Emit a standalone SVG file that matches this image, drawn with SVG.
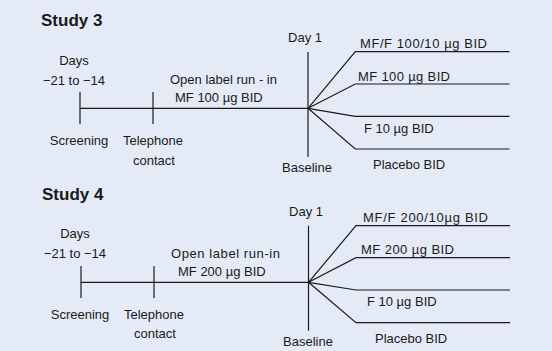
<svg xmlns="http://www.w3.org/2000/svg" width="552" height="351" viewBox="0 0 552 351">
<style>
text{font-family:"Liberation Sans",Arial,sans-serif;font-size:13px;fill:#1a1a1a}
.t{font-size:17px;font-weight:bold}
.c{text-anchor:middle}
line,polyline{stroke:#1a1a1a;stroke-width:1.2;fill:none}
</style>
<rect width="552" height="351" fill="#e4ebf6"/>
<g id="study3">
<text class="t" x="41" y="26">Study 3</text>
<g id="s3-screening">
<text class="c" x="74" y="65">Days</text>
<text class="c" x="74" y="85">−21 to −14</text>
<text class="c" x="79" y="145">Screening</text>
</g>
<g id="s3-telephone">
<text class="c" x="153" y="145">Telephone</text>
<text class="c" x="154" y="165">contact</text>
</g>
<g id="s3-runin">
<text x="170" y="84">Open label run - in</text>
<text x="175" y="102">MF 100 µg BID</text>
</g>
<g id="s3-baseline">
<text class="c" x="305" y="42">Day 1</text>
<text class="c" x="307" y="172">Baseline</text>
</g>
<g id="s3-arms">
<text x="360" y="48" textLength="127" lengthAdjust="spacing">MF/F 100/10 µg BID</text>
<text x="358" y="81" textLength="92" lengthAdjust="spacing">MF 100 µg BID</text>
<text x="364" y="133">F 10 µg BID</text>
<text x="373" y="169">Placebo BID</text>
</g>
<g id="s3-connectors">
<line x1="80" y1="92" x2="80" y2="124"/>
<line x1="153" y1="92" x2="153" y2="124"/>
<line x1="80" y1="108.3" x2="308" y2="108.3"/>
<line x1="308" y1="52" x2="308" y2="157"/>
<polyline points="308,108.3 355.3,51.7 509.5,51.7"/>
<polyline points="308,108.3 355.3,84 509.5,84"/>
<polyline points="308,108.3 355.3,116.3 509.5,116.3"/>
<polyline points="308,108.3 355.3,149 509.5,149"/>
</g>
</g>
<g id="study4">
<text class="t" x="42" y="200">Study 4</text>
<g id="s4-screening">
<text class="c" x="75" y="238">Days</text>
<text class="c" x="75" y="258">−21 to −14</text>
<text class="c" x="80" y="319">Screening</text>
</g>
<g id="s4-telephone">
<text class="c" x="154" y="319">Telephone</text>
<text class="c" x="155" y="338">contact</text>
</g>
<g id="s4-runin">
<text x="171" y="258" textLength="109" lengthAdjust="spacing">Open label run-in</text>
<text x="178" y="276">MF 200 µg BID</text>
</g>
<g id="s4-baseline">
<text class="c" x="306" y="216">Day 1</text>
<text class="c" x="308" y="346">Baseline</text>
</g>
<g id="s4-arms">
<text x="363" y="222" textLength="125" lengthAdjust="spacing">MF/F 200/10µg BID</text>
<text x="361" y="254" textLength="93" lengthAdjust="spacing">MF 200 µg BID</text>
<text x="367" y="306">F 10 µg BID</text>
<text x="375" y="343">Placebo BID</text>
</g>
<g id="s4-connectors">
<line x1="81" y1="266" x2="81" y2="298"/>
<line x1="154" y1="266" x2="154" y2="298"/>
<line x1="81" y1="282.3" x2="308.5" y2="282.3"/>
<line x1="308.5" y1="225.7" x2="308.5" y2="330.7"/>
<polyline points="308.5,282.3 356,225.7 510,225.7"/>
<polyline points="308.5,282.3 356,257.7 510,257.7"/>
<polyline points="308.5,282.3 356,290 510,290"/>
<polyline points="308.5,282.3 356,322.7 510,322.7"/>
</g>
</g>
</svg>
